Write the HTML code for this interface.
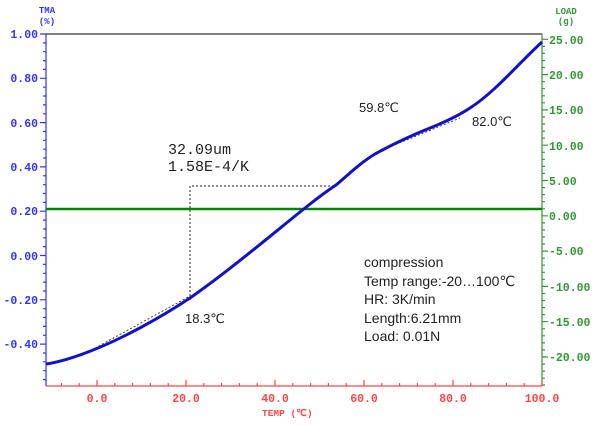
<!DOCTYPE html><html><head><style>body{margin:0;background:#fff}svg{display:block}</style></head><body>
<svg width="600" height="426" xmlns="http://www.w3.org/2000/svg" font-family="Liberation Mono, monospace">
<rect width="600" height="426" fill="#fff"/>
<line x1="46" y1="34" x2="542" y2="34" stroke="#555" stroke-width="1.5"/>
<g stroke="#33f" stroke-width="1.2">
<line x1="46" y1="34" x2="46" y2="386"/>
<path d="M46 34h-6M46 78.3h-6M46 122.6h-6M46 166.9h-6M46 211.2h-6M46 255.5h-6M46 299.8h-6M46 344.1h-6"/>
<path d="M46 42.9h-3M46 51.7h-3M46 60.6h-3M46 69.4h-3M46 87.2h-3M46 96h-3M46 104.9h-3M46 113.8h-3M46 131.5h-3M46 140.3h-3M46 149.2h-3M46 158h-3M46 175.8h-3M46 184.7h-3M46 193.5h-3M46 202.4h-3M46 220.1h-3M46 229h-3M46 237.8h-3M46 246.6h-3M46 264.4h-3M46 273.3h-3M46 282.1h-3M46 291h-3M46 308.7h-3M46 317.5h-3M46 326.4h-3M46 335.3h-3M46 353h-3M46 361.8h-3M46 370.7h-3M46 379.6h-3"/>
</g>
<g fill="#33f" font-size="11.5" font-weight="bold" text-anchor="end">
<text x="38" y="38">1.00</text><text x="38" y="82">0.80</text><text x="38" y="127">0.60</text><text x="38" y="171">0.40</text><text x="38" y="215">0.20</text><text x="38" y="260">0.00</text><text x="38" y="304">-0.20</text><text x="38" y="348">-0.40</text>
</g>
<text x="47" y="13" fill="#33f" font-size="9" text-anchor="middle" font-weight="bold">TMA</text>
<text x="47" y="24" fill="#33f" font-size="9" text-anchor="middle" font-weight="bold">(%)</text>
<g stroke="#393" stroke-width="1.2">
<line x1="542" y1="34" x2="542" y2="386"/>
<path d="M542 39.3h6M542 74.6h6M542 109.9h6M542 145.2h6M542 180.5h6M542 215.8h6M542 251.1h6M542 286.4h6M542 321.7h6M542 357h6"/>
<path d="M542 46.4h3M542 53.4h3M542 60.5h3M542 67.5h3M542 81.7h3M542 88.7h3M542 95.8h3M542 102.8h3M542 117h3M542 124h3M542 131.1h3M542 138.1h3M542 152.3h3M542 159.3h3M542 166.4h3M542 173.4h3M542 187.6h3M542 194.6h3M542 201.7h3M542 208.7h3M542 222.9h3M542 229.9h3M542 237h3M542 244h3M542 258.2h3M542 265.2h3M542 272.3h3M542 279.3h3M542 293.5h3M542 300.5h3M542 307.6h3M542 314.6h3M542 328.8h3M542 335.8h3M542 342.9h3M542 349.9h3M542 364.1h3M542 371.1h3M542 378.2h3M542 385h3"/>
</g>
<g fill="#393" font-size="11.5" font-weight="bold">
<text x="549" y="44">25.00</text><text x="549" y="79">20.00</text><text x="549" y="114">15.00</text><text x="549" y="150">10.00</text><text x="549" y="185">5.00</text><text x="549" y="220">0.00</text><text x="549" y="255">-5.00</text><text x="549" y="291">-10.00</text><text x="549" y="326">-15.00</text><text x="549" y="361">-20.00</text>
</g>
<text x="566" y="14" fill="#393" font-size="9" text-anchor="middle" font-weight="bold">LOAD</text>
<text x="566" y="24" fill="#393" font-size="9" text-anchor="middle" font-weight="bold">(g)</text>
<g stroke="#f44" stroke-width="1.2">
<line x1="46" y1="386" x2="542" y2="386"/>
<path d="M97 386v-6M186 386v-6M275 386v-6M364 386v-6M453 386v-6M542 386v-6"/>
<path d="M61.4 386v-3M79.2 386v-3M114.8 386v-3M132.6 386v-3M150.4 386v-3M168.2 386v-3M203.8 386v-3M221.6 386v-3M239.4 386v-3M257.2 386v-3M292.8 386v-3M310.6 386v-3M328.4 386v-3M346.2 386v-3M381.8 386v-3M399.6 386v-3M417.4 386v-3M435.2 386v-3M470.8 386v-3M488.6 386v-3M506.4 386v-3M524.2 386v-3"/>
</g>
<g fill="#f44" font-size="11.5" font-weight="bold" text-anchor="middle">
<text x="97" y="402">0.0</text><text x="186" y="402">20.0</text><text x="275" y="402">40.0</text><text x="364" y="402">60.0</text><text x="453" y="402">80.0</text><text x="542" y="402">100.0</text>
</g>
<text x="262" y="416" fill="#f44" font-size="9.5" font-weight="bold">TEMP  (℃)</text>
<line x1="46" y1="209" x2="542" y2="209" stroke="#080" stroke-width="2.5"/>
<path d="M190 300V186H335" fill="none" stroke="#222" stroke-width="1" stroke-dasharray="2,2"/>
<path d="M88 352L190 296M392 146L460 118" fill="none" stroke="#444" stroke-width="1" stroke-dasharray="2,2"/>
<path d="M46 364C60 362 75 357 88 352C120 340 160 318 190 298C230 270 275 232 305 208C320 196 330 189 336 185C348 175 360 163 375 154C395 143 410 136 430 128C445 122 458 116 470 108C495 92 520 62 542 42" fill="none" stroke="#11c" stroke-width="3"/>
<g fill="#222" font-family="Liberation Sans, DejaVu Sans, sans-serif">
<text x="168" y="154" font-size="15" font-family="Liberation Mono, monospace">32.09um</text>
<text x="168" y="171" font-size="15" font-family="Liberation Mono, monospace">1.58E-4/K</text>
<text x="185" y="323" font-size="13">18.3℃</text>
<text x="359" y="112" font-size="13">59.8℃</text>
<text x="472" y="126" font-size="13">82.0℃</text>
<text x="364" y="267" font-size="14">compression</text>
<text x="364" y="286" font-size="14">Temp range:-20…100℃</text>
<text x="364" y="304" font-size="14">HR: 3K/min</text>
<text x="364" y="323" font-size="14">Length:6.21mm</text>
<text x="364" y="341" font-size="14">Load: 0.01N</text>
</g>
</svg>
</body></html>
